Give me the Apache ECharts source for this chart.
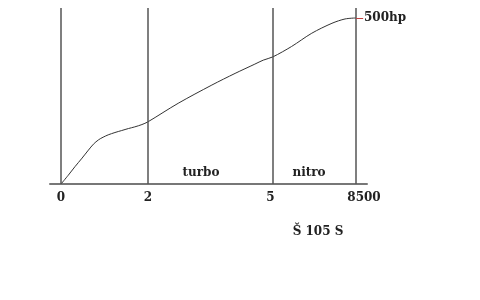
<!DOCTYPE html>
<html>
<head>
<meta charset="utf-8">
<script src="https://cdn.jsdelivr.net/npm/echarts@6/dist/echarts.min.js"></script>
<style>html,body{margin:0;padding:0;background:#fff}#c{width:480px;height:300px}</style>
</head>
<body>
<div id="c"></div>
<script>
// tick positions along the x axis and their labels
var tickPos = [0, 2.06, 5.03, 7];
var tickLabels = ['0', '2', '5', '8500'];
// power curve (x in axis units, y in hp)
var curveX = [0, 0.17, 0.33, 0.50, 0.65, 0.77, 0.89, 1.00, 1.12, 1.28, 1.44, 1.60, 1.75, 1.92, 2.06, 2.78, 3.58, 4.13, 4.60, 4.80, 5.03, 5.47, 5.95, 6.43, 6.74, 7];
var curveY = [0, 26, 52, 78, 102, 120, 133, 141, 148, 155, 161, 167, 172, 179, 187, 243, 298, 333, 361, 373, 383, 414, 454, 484, 497, 500];
var peakLabel = '500hp';
var zoneLabels = ['turbo', 'nitro'];
var caption = 'Š 105 S';

var font = 'DejaVu Serif';
var chart = echarts.init(document.getElementById('c'));
var labelMap = {};
tickPos.forEach(function (p, i) { labelMap[p] = tickLabels[i]; });
var txt = function (t, x, y) {
  return { type: 'text', x: x, y: y, style: { text: t, align: 'center', verticalAlign: 'middle', fill: '#222', font: 'bold 12px "DejaVu Serif"' } };
};

chart.setOption({
  animation: false,
  backgroundColor: '#fff',
  grid: { left: 50, right: 113, top: 8, bottom: 116 },
  xAxis: {
    type: 'value', min: -0.261, max: 7.261,
    splitLine: { show: false },
    axisLine: { lineStyle: { color: '#777', width: 2 } },
    axisTick: { show: false },
    axisLabel: {
      customValues: tickPos,
      margin: 8,
      color: '#222', fontFamily: font, fontWeight: 'bold', fontSize: 12,
      formatter: function (v) {
        var t = labelMap[v];
        if (t === '8500') return '{last|' + t + '}';
        if (t === '5') return '{five|' + t + '}';
        return t;
      },
      rich: {
        last: { padding: [0, 0, 0, 16], color: '#222', fontFamily: font, fontWeight: 'bold', fontSize: 12 },
        five: { padding: [0, 5, 0, 0], color: '#222', fontFamily: font, fontWeight: 'bold', fontSize: 12 }
      }
    }
  },
  yAxis: { type: 'value', min: 0, max: 530, show: false },
  series: [{
    type: 'line',
    data: curveX.map(function (x, i) { return [x, curveY[i]]; }),
    showSymbol: false,
    smooth: 0.3,
    lineStyle: { color: '#333', width: 1 },
    endLabel: {
      show: true, formatter: peakLabel, distance: 8,
      color: '#222', fontFamily: font, fontWeight: 'bold', fontSize: 12
    },
    markLine: {
      silent: true, symbol: 'none', label: { show: false },
      lineStyle: { color: '#555', width: 1.5, type: 'solid' },
      data: tickPos.map(function (p) { return { xAxis: p }; }).concat([[
        { coord: [7, 500], lineStyle: { color: '#c04040', width: 1 } },
        { coord: [7.17, 500] }
      ]])
    }
  }],
  graphic: [
    txt(zoneLabels[0], 201, 173),
    txt(zoneLabels[1], 309, 173),
    txt(caption, 318, 232)
  ]
});
</script>
</body>
</html>
